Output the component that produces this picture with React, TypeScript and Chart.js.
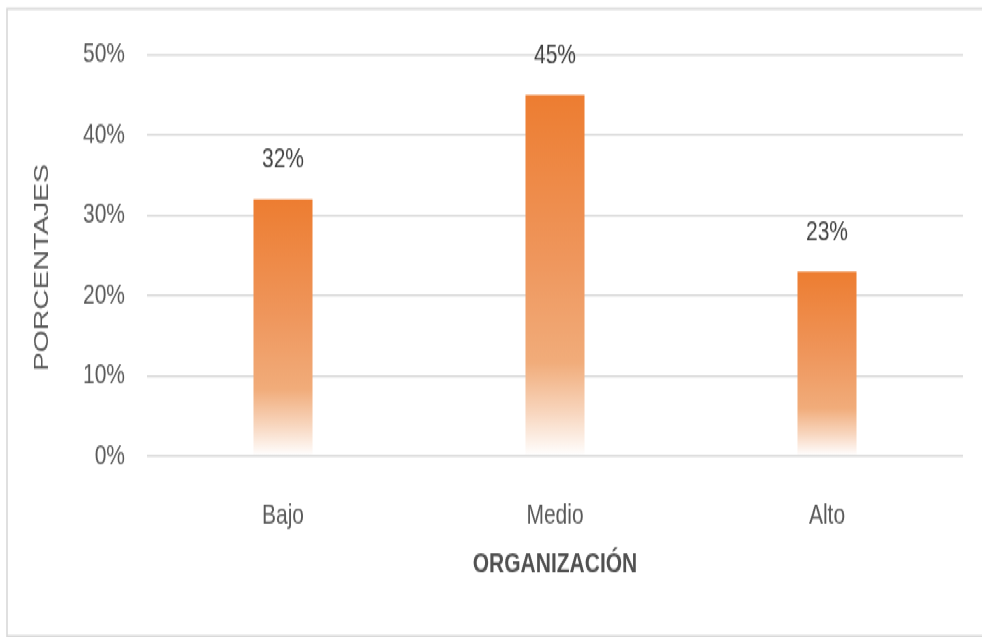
import React, { useEffect, useRef } from "react";
import { Chart, registerables } from "chart.js";

Chart.register(...registerables);

const categories = ["Bajo", "Medio", "Alto"];
const values = [32, 45, 23];
const yTicks = [0, 10, 20, 30, 40, 50];
const xTitle = "ORGANIZACIÓN";
const yTitle = "PORCENTAJES";

const W = 982;
const H = 472;
const S = 637 / H;
const FONT = "'Liberation Sans', Arial, sans-serif";

export default function App() {
  const ref = useRef<HTMLCanvasElement>(null);

  useEffect(() => {
    document.body.style.margin = "0";
    const canvas = ref.current!;

    const frame = {
      id: "frame",
      beforeDraw(chart: any) {
        const c = chart.ctx;
        c.save();
        c.strokeStyle = "#d9d9d9";
        c.lineWidth = 1.6;
        c.beginPath();
        c.moveTo(W, 9 / S);
        c.lineTo(7, 9 / S);
        c.lineTo(7, 636 / S);
        c.lineTo(W, 636 / S);
        c.stroke();
        c.restore();
      },
    };

    const valueLabels = {
      id: "valueLabels",
      afterDatasetsDraw(chart: any) {
        const meta = chart.getDatasetMeta(0);
        const c = chart.ctx;
        c.save();
        c.font = `21px ${FONT}`;
        c.fillStyle = "#404040";
        c.textAlign = "center";
        c.textBaseline = "middle";
        meta.data.forEach((el: any, i: number) => {
          c.fillText(values[i] + "%", el.x, el.y - 29);
        });
        c.restore();
      },
    };

    const yAxisTitle = {
      id: "yAxisTitle",
      afterDraw(chart: any) {
        const c = chart.ctx;
        const area = chart.chartArea;
        c.save();
        c.font = `21px ${FONT}`;
        c.fillStyle = "#595959";
        c.textAlign = "center";
        c.textBaseline = "middle";
        c.translate(42, (area.top + area.bottom) / 2 + 9);
        c.rotate(-Math.PI / 2);
        c.fillText(yTitle, 0, 0);
        c.restore();
      },
    };

    const chart = new Chart(canvas, {
      type: "bar",
      data: {
        labels: categories,
        datasets: [
          {
            data: values,
            barPercentage: 0.217,
            categoryPercentage: 1,
            borderWidth: 0,
            backgroundColor: (ctx: any) => {
              const ch = ctx.chart;
              const ys = ch.scales && ch.scales.y;
              if (!ch.chartArea || !ys || ctx.dataIndex == null) return "#ED7D31";
              const top = ys.getPixelForValue(values[ctx.dataIndex]);
              const base = ys.getPixelForValue(0);
              if (!isFinite(top) || !isFinite(base) || top === base) return "#ED7D31";
              const g = ch.ctx.createLinearGradient(0, top, 0, base);
              g.addColorStop(0, "rgb(237,125,49)");
              g.addColorStop(0.45, "rgb(239,150,92)");
              g.addColorStop(0.74, "rgb(241,172,122)");
              g.addColorStop(0.88, "rgb(248,214,190)");
              g.addColorStop(1, "rgb(255,255,255)");
              return g;
            },
          } as any,
        ],
      },
      options: {
        responsive: false,
        animation: false,
        layout: { padding: { left: 0, right: 19, top: 40.7, bottom: 0 } },
        plugins: {
          legend: { display: false },
          tooltip: { enabled: false },
        },
        scales: {
          x: {
            grid: { display: false },
            border: { display: false },
            ticks: {
              padding: 23.6,
              color: "#595959",
              font: { family: FONT, size: 21 },
            },
            title: {
              display: true,
              text: xTitle,
              color: "#505050",
              font: { family: FONT, size: 21, weight: "bold" },
              padding: { top: 0, bottom: 41 },
            },
            afterFit: (s: any) => {
              s.height = 134.2;
            },
          },
          y: {
            min: 0,
            max: 50,
            afterBuildTicks: (s: any) => {
              s.ticks = yTicks.map((v) => ({ value: v }));
            },
            ticks: {
              padding: 22,
              color: "#595959",
              font: { family: FONT, size: 21 },
              callback: (v: any) => v + "%",
            },
            grid: { color: "#d9d9d9", lineWidth: 1.5, drawTicks: false },
            border: { display: false },
            title: { display: false },
            afterFit: (s: any) => {
              s.width = 147;
            },
          },
        },
      },
      plugins: [frame, valueLabels, yAxisTitle],
    } as any);

    return () => chart.destroy();
  }, []);

  return (
    <div
      style={{
        position: "absolute",
        left: 0,
        top: 0,
        width: W,
        height: H,
        transform: `scaleY(${S})`,
        transformOrigin: "0 0",
        background: "#fff",
      }}
    >
      <canvas ref={ref} width={W} height={H} style={{ display: "block" }} />
    </div>
  );
}
